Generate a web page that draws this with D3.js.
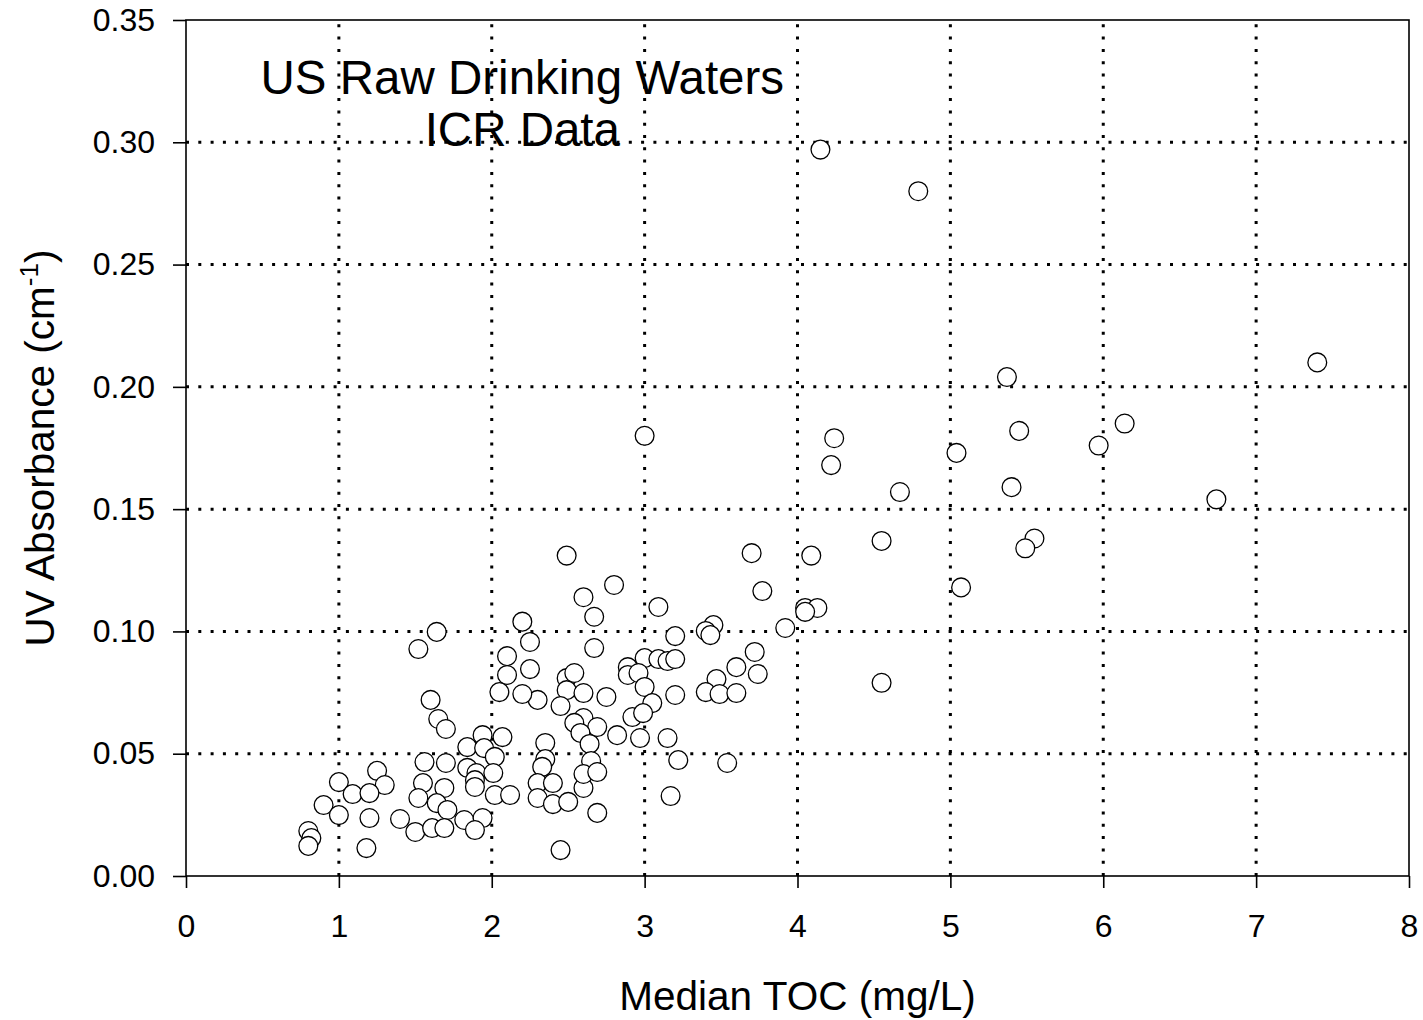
<!DOCTYPE html>
<html>
<head>
<meta charset="utf-8">
<script src="https://d3js.org/d3.v7.min.js"></script>
<style>
  body { margin: 0; background: #fff; }
  text { font-family: "Liberation Sans", Arial, sans-serif; fill: #000; }
</style>
</head>
<body>
<div id="chart"></div>
<script>
// median TOC (mg/L) and UV absorbance (1/cm)
var toc = [
  4.15, 4.79, 7.40, 5.37, 6.14, 5.45, 4.24, 3.00, 5.97, 5.04,
  4.22, 5.40, 4.67, 6.74, 4.55, 5.55, 5.49, 3.70, 4.09, 2.49,
  5.07, 3.77, 2.80, 2.60, 3.09, 4.05, 4.13, 4.05, 2.67, 2.20,
  3.45, 3.92, 1.64, 3.40, 3.43, 3.20, 2.25, 1.52, 2.67, 3.72,
  2.10, 4.55,
  3.00, 3.09, 3.15, 3.20, 2.89, 2.89, 2.96, 3.00, 3.05, 2.92,
  2.99, 2.97, 3.15, 3.22, 3.20, 3.60, 3.47, 3.40, 3.49, 3.60,
  3.74, 3.54, 3.17,
  2.25, 2.49, 2.54, 2.49, 2.60, 2.75, 2.30, 2.20, 2.45, 2.60,
  2.54, 2.69, 2.58, 2.64, 2.82, 2.65, 2.35, 2.35, 2.33, 2.30,
  2.40, 2.30, 2.40, 2.50, 2.60, 2.60, 2.69, 2.69, 2.45,
  2.10, 2.05, 1.60, 1.65, 1.70, 1.94, 2.07, 1.84, 1.95, 2.02,
  1.56, 1.70, 1.84, 1.90, 2.01, 1.89, 1.89, 2.02, 2.12, 1.55,
  1.69, 1.52, 1.64, 1.71, 1.82, 1.94, 1.89, 1.50, 1.61, 1.69,
  1.25, 1.30, 1.00, 1.09, 1.20, 0.90, 1.00, 1.20, 1.40,
  0.80, 0.82, 0.80, 1.18
];
var uvAbs = [
  0.297, 0.280, 0.210, 0.204, 0.185, 0.182, 0.179, 0.180, 0.176, 0.173,
  0.168, 0.159, 0.157, 0.154, 0.137, 0.138, 0.134, 0.132, 0.131, 0.131,
  0.118, 0.1165, 0.119, 0.114, 0.110, 0.1096, 0.1096, 0.108, 0.106, 0.104,
  0.1026, 0.1014, 0.0998, 0.1002, 0.0985, 0.0981, 0.0957, 0.0928, 0.0932, 0.0916,
  0.0899, 0.079,
  0.0891, 0.0887, 0.0879, 0.0887, 0.0854, 0.0822, 0.0830, 0.0773, 0.0707, 0.0650,
  0.0666, 0.0564, 0.0564, 0.0474, 0.0740, 0.0854, 0.0805, 0.0752, 0.0744, 0.0748,
  0.0826, 0.0462, 0.0327,
  0.0846, 0.0809, 0.0830, 0.0760, 0.0748, 0.0732, 0.0720, 0.0744, 0.0695, 0.0646,
  0.0626, 0.0609, 0.0585, 0.0540, 0.0576, 0.0470, 0.0544, 0.0478, 0.0446, 0.0380,
  0.0380, 0.0319, 0.0294, 0.0303, 0.0360, 0.0417, 0.0425, 0.0258, 0.0106,
  0.0822, 0.0752, 0.0720, 0.0642, 0.0601, 0.0576, 0.0568, 0.0527, 0.0523, 0.0487,
  0.0466, 0.0462, 0.0442, 0.0421, 0.0421, 0.0392, 0.0364, 0.0331, 0.0331, 0.0380,
  0.0360, 0.0319, 0.0298, 0.0270, 0.0229, 0.0237, 0.0188, 0.0180, 0.0196, 0.0196,
  0.0430, 0.0372, 0.0384, 0.0335, 0.0339, 0.0290, 0.0249, 0.0237, 0.0233,
  0.0184, 0.0155, 0.0123, 0.0114
];
var xTicks = [0, 1, 2, 3, 4, 5, 6, 7, 8];
var yTicks = [0, 0.05, 0.10, 0.15, 0.20, 0.25, 0.30, 0.35];
var titleLines = ["US Raw Drinking Waters", "ICR Data"];

var margin = { top: 20, right: 14, bottom: 144, left: 186 };
var width = 1423 - margin.left - margin.right;
var height = 1020 - margin.top - margin.bottom;

var svg = d3.select("#chart").append("svg")
  .attr("width", 1423)
  .attr("height", 1020);

var g = svg.append("g")
  .attr("transform", "translate(" + margin.left + "," + margin.top + ")");

var x = d3.scaleLinear().domain([0, 8]).range([0, width]);
var y = d3.scaleLinear().domain([0, 0.35]).range([height, 0]);

// title inside the plot
g.append("text")
  .attr("text-anchor", "middle")
  .style("font-size", "47.5px")
  .selectAll("tspan")
  .data(titleLines)
  .enter().append("tspan")
  .attr("x", x(2.2))
  .attr("y", function (d, i) { return 74 + i * 52; })
  .text(function (d) { return d; });

// dotted grid
var grid = g.append("g")
  .attr("stroke", "#000")
  .attr("stroke-width", 3)
  .attr("stroke-dasharray", "3,9.3");

grid.selectAll(".vg")
  .data(xTicks.slice(1, -1))
  .enter().append("line")
  .attr("x1", function (d) { return x(d); })
  .attr("x2", function (d) { return x(d); })
  .attr("y1", height)
  .attr("y2", 0);

grid.selectAll(".hg")
  .data(yTicks.slice(1, -1))
  .enter().append("line")
  .attr("x1", 0)
  .attr("x2", width)
  .attr("y1", function (d) { return y(d); })
  .attr("y2", function (d) { return y(d); });

// points
g.append("g")
  .selectAll("circle")
  .data(toc)
  .enter().append("circle")
  .attr("cx", function (d) { return x(d); })
  .attr("cy", function (d, i) { return y(uvAbs[i]); })
  .attr("r", 9.4)
  .attr("fill", "#fff")
  .attr("stroke", "#000")
  .attr("stroke-width", 1.3);

// frame
g.append("rect")
  .attr("width", width)
  .attr("height", height)
  .attr("fill", "none")
  .attr("stroke", "#000")
  .attr("stroke-width", 1.6);

// axes
var xAxis = g.append("g")
  .attr("transform", "translate(0," + height + ")")
  .call(d3.axisBottom(x).tickValues(xTicks).tickFormat(d3.format("d"))
    .tickSize(12).tickSizeOuter(0).tickPadding(26));

var yAxis = g.append("g")
  .call(d3.axisLeft(y).tickValues(yTicks).tickFormat(d3.format(".2f"))
    .tickSize(13).tickSizeOuter(0).tickPadding(18));

[xAxis, yAxis].forEach(function (a) {
  a.select(".domain").remove();
  a.selectAll("line").attr("stroke", "#000").attr("stroke-width", 1.6);
  a.selectAll("text")
    .style("font-family", "'Liberation Sans', Arial, sans-serif")
    .style("font-size", "32px")
    .attr("fill", "#000");
});

// axis titles
g.append("text")
  .attr("x", width / 2)
  .attr("y", height + 134)
  .attr("text-anchor", "middle")
  .style("font-size", "40.5px")
  .text("Median TOC (mg/L)");

var yt = g.append("text")
  .attr("transform", "translate(" + (54 - margin.left) + "," + (height / 2) + ") rotate(-90)")
  .attr("text-anchor", "middle")
  .style("font-size", "40.5px");
yt.append("tspan").text("UV Absorbance (cm");
yt.append("tspan").attr("dy", -16).style("font-size", "26px").text("-1");
yt.append("tspan").attr("dy", 16).text(")");
</script>
</body>
</html>
